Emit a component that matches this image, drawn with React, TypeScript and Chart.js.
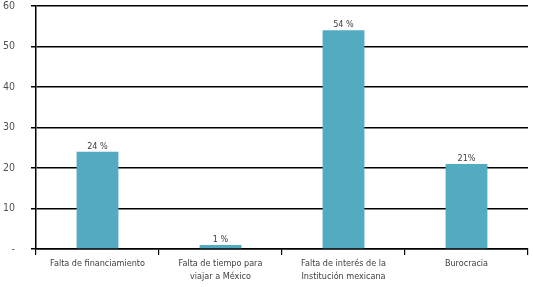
import React, { useEffect, useRef } from "react";
import { Chart, registerables } from "chart.js";

Chart.register(...registerables);

const categories: (string | string[])[] = [
  "Falta de financiamiento",
  ["Falta de tiempo para", "viajar a México"],
  ["Falta de interés de la", "Institución mexicana"],
  "Burocracia",
];
const values: number[] = [24, 1, 54, 21];
const valueLabels: string[] = ["24 %", "1 %", "54 %", "21%"];
const yTicks: number[] = [0, 10, 20, 30, 40, 50, 60];

const FONT = "'Liberation Sans Narrow', 'DejaVu Sans Condensed', 'Liberation Sans', sans-serif";

const valueLabelPlugin = {
  id: "valueLabels",
  afterDatasetsDraw(chart: any) {
    const ctx = chart.ctx;
    const meta = chart.getDatasetMeta(0);
    ctx.save();
    ctx.font = `9px ${FONT}`;
    ctx.fillStyle = "#404040";
    ctx.textAlign = "center";
    ctx.textBaseline = "bottom";
    meta.data.forEach((bar: any, i: number) => {
      ctx.fillText(valueLabels[i], bar.x, bar.y - 1);
    });
    ctx.restore();
  },
};

export default function App() {
  const ref = useRef<HTMLCanvasElement>(null);
  useEffect(() => {
    document.body.style.margin = "0";
    const chart = new Chart(ref.current!, {
      type: "bar",
      data: {
        labels: categories,
        datasets: [
          {
            data: values,
            backgroundColor: "#52abc1",
            barPercentage: 0.34,
            categoryPercentage: 1,
          },
        ],
      },
      options: {
        animation: false,
        responsive: false,
        maintainAspectRatio: false,
        layout: { padding: { top: 6, right: 5, left: 0, bottom: 0 } },
        plugins: { legend: { display: false }, tooltip: { enabled: false } },
        scales: {
          x: {
            afterFit: (axis: any) => {
              axis.height = 38;
            },
            grid: {
              display: true,
              drawOnChartArea: false,
              drawTicks: true,
              tickLength: 6,
              color: "#000",
              lineWidth: 1.2,
              offset: true,
            },
            border: { display: true, color: "#000", width: 1.5 },
            ticks: {
              color: "#404040",
              font: { family: FONT, size: 9, lineHeight: 1.45 },
              maxRotation: 0,
              padding: 2,
            },
          },
          y: {
            min: 0,
            max: 60,
            afterBuildTicks: (axis: any) => {
              axis.ticks = yTicks.map((v) => ({ value: v }));
            },
            afterFit: (axis: any) => {
              axis.width = 36;
              axis.paddingTop = 0;
              axis.paddingBottom = 0;
            },
            grid: {
              color: "#000",
              lineWidth: 1.5,
              tickLength: 5,
            },
            border: { display: true, color: "#000", width: 1.5 },
            ticks: {
              color: "#505050",
              font: { family: FONT, size: 10.5 },
              padding: 16,
              callback: (v: any) => (v === 0 ? "-" : String(v)),
            },
          },
        },
      },
      plugins: [valueLabelPlugin],
    });
    return () => chart.destroy();
  }, []);
  return (
    <div style={{ position: "absolute", left: 0, top: 0, width: 533, height: 287 }}>
      <canvas ref={ref} width={533} height={287} style={{ width: 533, height: 287 }} />
    </div>
  );
}
